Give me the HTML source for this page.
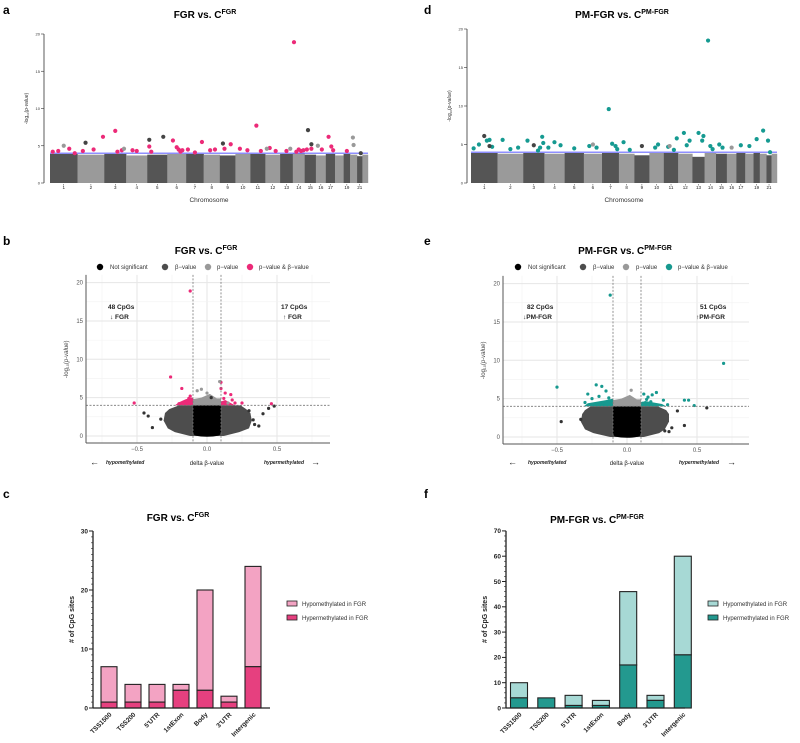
<!DOCTYPE html>
<html><head><meta charset="utf-8"><style>
html,body{margin:0;padding:0;background:#fff;}
svg{display:block;font-family:"Liberation Sans",sans-serif;}
</style></head><body>
<svg id="fig" width="800" height="743" viewBox="0 0 800 743" xmlns="http://www.w3.org/2000/svg">
<g font-weight="bold" font-size="12" fill="#000">
<text x="3" y="14">a</text>
<text x="3" y="245">b</text>
<text x="3" y="498">c</text>
<text x="424" y="14">d</text>
<text x="424" y="245">e</text>
<text x="424" y="498">f</text>
</g>
<g font-weight="bold" font-size="10" text-anchor="middle" fill="#000">
<text x="205" y="18">FGR vs. C<tspan dy="-4" font-size="7">FGR</tspan></text>
<text x="622" y="18">PM-FGR vs. C<tspan dy="-4" font-size="7">PM-FGR</tspan></text>
<text x="206" y="254">FGR vs. C<tspan dy="-4" font-size="7">FGR</tspan></text>
<text x="625" y="254">PM-FGR vs. C<tspan dy="-4" font-size="7">PM-FGR</tspan></text>
<text x="178" y="521">FGR vs. C<tspan dy="-4" font-size="7">FGR</tspan></text>
<text x="597" y="523">PM-FGR vs. C<tspan dy="-4" font-size="7">PM-FGR</tspan></text>
</g>
<g id="A"></g>
<g id="D"></g>
<g id="B"></g>
<g id="E"></g>
<g id="C"></g>
<g id="F"></g>
</svg>
<script>
// ---------- data ----------
const chrSizes=[249,243,198,191,181,171,159,146,141,136,135,134,115,107,102,90,83,78,59,63,48,51];
const chrLabels=["1","2","3","4","5","6","7","8","9","10","11","12","13","14","15","16","17","","19","","21",""];
const chrTopA=[3.9,3.8,3.9,3.7,3.8,3.9,3.9,3.8,3.7,3.9,3.9,3.8,3.9,4.0,3.8,3.7,3.9,3.7,3.9,3.8,3.6,3.8];
const chrTopD=[3.9,3.8,3.9,3.8,3.9,3.8,3.9,3.8,3.6,3.9,3.9,3.8,3.4,3.9,3.8,3.8,3.9,3.8,3.9,3.8,3.6,3.8];
// manhattan points: chromosome, fraction along chromosome, -log10 p, type (s=significant, g=grey, d=dark)
const manAChr=[1,1,1,1,2,2,2,3,3,3,4,4,5,5,6,6,6,6,6,7,7,7,8,8,9,9,10,10,11,11,12,12,13,14,14,14,14,14,15,15,16,17,17,17,19,21,2,5,5,9,15,15,16,20,20,1,3,12,13];
const manAFrac=[0.1,0.3,0.7,0.9,0.2,0.6,0.95,0.5,0.6,0.8,0.3,0.5,0.1,0.2,0.3,0.5,0.6,0.7,0.8,0.1,0.5,0.9,0.4,0.7,0.3,0.7,0.3,0.8,0.4,0.7,0.3,0.7,0.5,0.1,0.3,0.5,0.7,0.9,0.2,0.6,0.6,0.3,0.6,0.8,0.5,0.7,0.3,0.1,0.8,0.2,0.3,0.6,0.2,0.4,0.5,0.5,0.9,0.1,0.8];
const manAVal=[4.2,4.3,4.6,4.0,4.3,4.5,6.2,7.0,4.2,4.4,4.4,4.3,4.9,4.2,5.7,4.8,4.5,4.2,4.4,4.5,4.1,5.5,4.4,4.5,4.6,5.2,4.6,4.4,7.7,4.3,4.7,4.3,4.3,18.9,4.2,4.5,4.3,4.4,4.5,4.6,4.5,6.2,4.9,4.4,4.3,4.0,5.4,5.8,6.2,5.3,7.1,5.2,5.0,6.1,5.1,5.0,4.6,4.6,4.6];
const manAType="sssssssssssssssssssssssssssssssssssssssssssssdddddddgggggg".padEnd(59,"g");
const manDChr=[1,1,1,1,1,2,2,2,3,3,3,3,3,4,4,4,5,6,6,7,7,7,7,8,8,10,10,11,11,11,12,12,12,13,13,13,14,14,14,15,15,17,18,19,20,21,21,1,1,3,9,11,6,16];
const manDFrac=[0.1,0.3,0.6,0.7,0.8,0.2,0.5,0.8,0.2,0.7,0.9,0.95,0.8,0.2,0.5,0.8,0.5,0.3,0.7,0.4,0.6,0.8,0.9,0.3,0.7,0.4,0.6,0.3,0.7,0.9,0.4,0.6,0.8,0.5,0.8,0.9,0.3,0.5,0.7,0.3,0.6,0.5,0.5,0.5,0.5,0.3,0.7,0.5,0.7,0.5,0.5,0.4,0.5,0.5];
const manDVal=[4.5,5.0,5.5,5.6,4.7,5.6,4.4,4.6,5.5,4.2,6.0,5.2,4.6,4.6,5.3,4.9,4.5,4.8,4.6,9.6,5.1,4.8,4.4,5.3,4.3,4.6,5.0,4.7,4.3,5.8,6.5,4.9,5.5,6.5,5.5,6.1,18.5,4.8,4.4,5.0,4.6,4.9,4.8,5.7,6.8,5.5,4.0,6.1,4.8,4.9,4.8,4.8,5.0,4.6];
const manDType="sssssssssssssssssssssssssssssssssssssssssssssssddddggg";
// volcano points: delta beta, -log10 p, type
const volBX=[-0.12,-0.26,-0.18,-0.52,0.10,0.10,0.13,0.17,0.12,0.18,0.20,0.46,0.25,-0.14,-0.12,-0.11,-0.16,-0.2,-0.13,0.12,0.15,0.0,-0.04,-0.07,0.09,0.03,-0.45,-0.42,-0.39,0.40,0.44,0.48,0.37,0.33,0.34,-0.33,0.3];
const volBY=[18.9,7.7,6.2,4.3,7.0,6.2,5.6,5.4,4.9,4.7,4.3,4.2,4.3,4.5,5.2,4.8,4.3,4.2,4.9,4.3,4.3,5.6,6.1,5.9,7.1,5.0,3.0,2.6,1.1,2.9,3.6,3.9,1.3,2.1,1.5,2.2,3.3];
const volBType="ssssssssssssssssssssgggggdddddddddddd".split("");
const volEX=[-0.12,0.69,-0.5,-0.22,-0.18,-0.28,-0.25,-0.15,0.21,0.18,0.12,0.15,0.26,0.41,0.44,0.48,0.29,-0.2,-0.13,-0.3,-0.17,-0.11,0.11,0.14,0.17,0.03,-0.05,0.06,0.57,-0.47,0.41,0.32,0.27,0.30,-0.33,0.36];
const volEY=[18.5,9.6,6.5,6.8,6.6,5.6,5.0,6.0,5.8,5.5,5.6,5.2,4.8,4.8,4.8,4.1,4.2,5.3,5.1,4.5,4.4,4.7,4.4,4.9,4.6,6.1,4.6,4.7,3.8,2.0,1.5,1.2,0.8,0.7,2.3,3.4];
const volEType="sssssssssssssssssssssssssgggdddddddd".split("");
// cloud envelopes
const cloudY=[0,0.5,1,2,3,3.5,4];
const cloudBL=[-0.12,-0.23,-0.28,-0.31,-0.3,-0.27,-0.2];
const cloudBR=[0.12,0.23,0.3,0.32,0.31,0.28,0.24];
const cloudEL=[-0.12,-0.24,-0.3,-0.33,-0.32,-0.3,-0.26];
const cloudER=[0.12,0.23,0.27,0.3,0.3,0.28,0.22];
// bars
const regions=["TSS1500","TSS200","5'UTR","1stExon","Body","3'UTR","Intergenic"];
const hyperC=[1,1,1,3,3,1,7];
const hypoC=[6,3,3,1,17,1,17];
const hyperF=[4,4,1,1,17,3,21];
const hypoF=[6,0,4,2,29,2,39];
const ticksC=[0,10,20,30];
const ticksF=[0,10,20,30,40,50,60,70];
const volXTicks=[-0.5,0,0.5];
const volYTicks=[0,5,10,15,20];
const manYTicks=[0,5,10,15,20];

// ---------- helpers ----------
const NS="http://www.w3.org/2000/svg";
function mk(tag,attrs,parent,name){
  const e=document.createElementNS(NS,tag);
  for(const k in attrs)e.setAttribute(k,attrs[k]);
  
  
  parent.appendChild(e);return e;
}
function txt(parent,x,y,s,attrs,name){const t=mk('text',Object.assign({x:x,y:y},attrs||{}),parent,name);t.textContent=s;return t;}
const total=chrSizes.reduce((a,b)=>a+b,0);
const cumStart=[];let acc=0;chrSizes.forEach(s=>{cumStart.push(acc);acc+=s;});

// ---------- manhattan ----------
function manhattan(g,x0,x1,axX,y0,ppu,tops,chrs,fracs,vals,types,sigCol){
  const mx=(c,f)=>x0+(cumStart[c-1]+f*chrSizes[c-1])/total*(x1-x0);
  const my=v=>y0-v*ppu;
  chrSizes.forEach((s,i)=>{
    const r=mk('rect',{x:mx(i+1,0),y:my(tops[i]),width:mx(i+1,1)-mx(i+1,0)+0.2,height:my(0)-my(tops[i]),fill:i%2?'#9a9a9a':'#555'},g,'chromosome-block');
    if(chrLabels[i]){
      txt(g,mx(i+1,0.5),y0+6,chrLabels[i],{'font-size':4.5,'text-anchor':'middle',fill:'#222'},'chromosome-tick-label');
      mk('line',{x1:mx(i+1,0.5),x2:mx(i+1,0.5),y1:y0+1,y2:y0+2.5,stroke:'#333','stroke-width':0.5},g,'chromosome-tick');
    }
  });
  mk('line',{x1:axX,x2:axX,y1:my(20),y2:my(0),stroke:'#333','stroke-width':0.8},g,'y-axis');
  manYTicks.forEach(t=>{
    mk('line',{x1:axX-3,x2:axX,y1:my(t),y2:my(t),stroke:'#333','stroke-width':0.6},g,'y-tick');
    txt(g,axX-4,my(t)+1.5,String(t),{'font-size':4,'text-anchor':'end',fill:'#333'},'y-tick-label');
  });
  mk('line',{x1:x0,x2:x1,y1:my(4),y2:my(4),stroke:'#6a6aff','stroke-width':1.2},g,'threshold-line');
  chrs.forEach((c,i)=>{
    const col=types[i]==='s'?sigCol:(types[i]==='d'?'#444':'#999');
    mk('circle',{cx:mx(c,fracs[i]),cy:my(vals[i]),r:2.1,fill:col},g,'point');
  });
  txt(g,(x0+x1)/2,y0+19,'Chromosome',{'font-size':6.5,'text-anchor':'middle',fill:'#333'},'x-axis-title');
  const yt=txt(g,0,0,'',{'font-size':5,'text-anchor':'middle',fill:'#333',transform:`translate(${axX-16},${my(10)}) rotate(-90)`},'y-axis-title');
  yt.innerHTML='-log<tspan font-size="3" dy="1">10</tspan><tspan dy="-1">(</tspan><tspan font-style="italic">p-value</tspan>)';
}
manhattan(document.getElementById('A'),50,368,44,183,7.45,chrTopA,manAChr,manAFrac,manAVal,manAType,'#ec2a78');
manhattan(document.getElementById('D'),471,777,467,183,7.7,chrTopD,manDChr,manDFrac,manDVal,manDType,'#159a91');

// ---------- volcano ----------
function volcano(g,axX,x0val,ppx,y0,ppu,xr,cl,cr,xs,ys,types,sigCol,o){
  const vx=v=>x0val+v*ppx, vy=v=>y0-v*ppu;
  const bottom=y0+7;
  [-0.75,-0.25,0.25,0.75].forEach(t=>{if(vx(t)>axX&&vx(t)<xr)mk('line',{x1:vx(t),x2:vx(t),y1:vy(21),y2:bottom,stroke:'#f2f2f2','stroke-width':0.6},g,'grid-minor');});
  volXTicks.forEach(t=>mk('line',{x1:vx(t),x2:vx(t),y1:vy(21),y2:bottom,stroke:'#e6e6e6','stroke-width':1},g,'grid-major'));
  [2.5,7.5,12.5,17.5].forEach(t=>mk('line',{x1:axX,x2:xr,y1:vy(t),y2:vy(t),stroke:'#f2f2f2','stroke-width':0.6},g,'grid-minor'));
  volYTicks.forEach(t=>mk('line',{x1:axX,x2:xr,y1:vy(t),y2:vy(t),stroke:'#e6e6e6','stroke-width':1},g,'grid-major'));
  // dark cloud
  let d='M'+cloudY.map((y,i)=>vx(cl[i])+','+vy(y)).join(' L')+' L'+cloudY.slice().reverse().map((y,i)=>vx(cr[cloudY.length-1-i])+','+vy(y)).join(' L')+'Z';
  mk('path',{d:d,fill:'#4d4d4d'},g,'cloud-beta-value');
  mk('path',{d:`M${vx(-0.1)},${vy(4)} L${vx(-0.1)},${vy(4.8)} L${vx(-0.04)},${vy(5.0)} L${vx(0.02)},${vy(5.5)} L${vx(0.07)},${vy(4.9)} L${vx(0.1)},${vy(4.9)} L${vx(0.1)},${vy(4)}Z`,fill:'#999'},g,'cloud-p-value');
  mk('path',{d:`M${vx(-0.1)},${vy(4)} L${vx(-0.1)},${vy(0.4)} Q${vx(-0.1)},${vy(-0.1)} ${vx(0)},${vy(-0.1)} Q${vx(0.1)},${vy(-0.1)} ${vx(0.1)},${vy(0.4)} L${vx(0.1)},${vy(4)}Z`,fill:'#000'},g,'cloud-not-significant');
  // significant edge clusters
  mk('path',{d:`M${vx(-0.1)},${vy(4)} L${vx(-0.1)},${vy(5.0)} L${vx(-0.15)},${vy(4.8)} L${vx(-o)},${vy(4.4)} L${vx(-o-0.03)},${vy(4)}Z`,fill:sigCol},g,'cluster-left');
  mk('path',{d:`M${vx(0.1)},${vy(4)} L${vx(0.1)},${vy(4.5)} L${vx(0.13)},${vy(4.7)} L${vx(o-0.03)},${vy(4.3)} L${vx(o)},${vy(4)}Z`,fill:sigCol},g,'cluster-right');
  xs.forEach((x,i)=>{
    const col=types[i]==='s'?sigCol:(types[i]==='d'?'#333':'#999');
    mk('circle',{cx:vx(x),cy:vy(ys[i]),r:1.6,fill:col},g,'point');
  });
  const dash={stroke:'#777','stroke-width':0.8,'stroke-dasharray':'2,1.5'};
  mk('line',Object.assign({x1:vx(-0.1),x2:vx(-0.1),y1:vy(21),y2:bottom},dash),g,'beta-threshold-left');
  mk('line',Object.assign({x1:vx(0.1),x2:vx(0.1),y1:vy(21),y2:bottom},dash),g,'beta-threshold-right');
  mk('line',Object.assign({x1:axX,x2:xr,y1:vy(4),y2:vy(4)},dash),g,'p-threshold');
  mk('line',{x1:axX,x2:axX,y1:vy(21),y2:bottom,stroke:'#555','stroke-width':1},g,'y-axis');
  mk('line',{x1:axX,x2:xr,y1:bottom,y2:bottom,stroke:'#555','stroke-width':1},g,'x-axis');
  volYTicks.forEach(t=>txt(g,axX-3,vy(t)+2,String(t),{'font-size':6,'text-anchor':'end',fill:'#555'},'y-tick-label'));
  volXTicks.forEach(t=>txt(g,vx(t),bottom+8,t===0?'0.0':(t<0?'\u22120.5':'0.5'),{'font-size':6,'text-anchor':'middle',fill:'#555'},'x-tick-label'));
  const yt=txt(g,0,0,'',{'font-size':6,'text-anchor':'middle',fill:'#444',transform:`translate(${axX-18},${vy(10)}) rotate(-90)`},'y-axis-title');
  yt.innerHTML='-log<tspan font-size="3.5" dy="1">10</tspan><tspan dy="-1">(</tspan><tspan font-style="italic">p-value</tspan>)';
}
volcano(document.getElementById('B'),86,207,140,436,7.67,330,cloudBL,cloudBR,volBX,volBY,volBType,'#ec2a78',0.2);
volcano(document.getElementById('E'),503,627,140,437,7.67,749,cloudEL,cloudER,volEX,volEY,volEType,'#17998f',0.28);

// ---------- bars ----------
function bars(g,axX,y0,ymax,ppu,x0,step,bw,hyper,hypo,ticks,light,dark,legX,xEnd){
  const by=v=>y0-v*ppu;
  regions.forEach((r,i)=>{
    const cx=x0+i*step;
    mk('rect',{x:cx-bw/2,y:by(hyper[i]+hypo[i]),width:bw,height:hypo[i]*ppu,fill:light,stroke:'#222','stroke-width':1.1},g,'bar-hypo-'+r);
    mk('rect',{x:cx-bw/2,y:by(hyper[i]),width:bw,height:hyper[i]*ppu,fill:dark,stroke:'#222','stroke-width':1.1},g,'bar-hyper-'+r);
    txt(g,cx+3,y0+7,r,{'font-size':6.5,'font-weight':'bold','text-anchor':'end',fill:'#222',transform:`rotate(-45 ${cx+3} ${y0+7})`},'x-tick-label');
  });
  mk('line',{x1:axX,x2:axX,y1:by(ymax),y2:y0,stroke:'#222','stroke-width':1.3},g,'y-axis');
  mk('line',{x1:axX,x2:xEnd,y1:y0,y2:y0,stroke:'#222','stroke-width':1.3},g,'x-axis');
  for(let v=0;v<=ymax;v+=(ymax>40?2:1))mk('line',{x1:axX-2,x2:axX,y1:by(v),y2:by(v),stroke:'#222','stroke-width':0.6},g,'y-minor-tick');
  ticks.forEach(t=>{
    mk('line',{x1:axX-4,x2:axX,y1:by(t),y2:by(t),stroke:'#222','stroke-width':1},g,'y-tick');
    txt(g,axX-5,by(t)+2.3,String(t),{'font-size':6.5,'font-weight':'bold','text-anchor':'end',fill:'#222'},'y-tick-label');
  });
  txt(g,0,0,'# of CpG sites',{'font-size':7,'font-weight':'bold','text-anchor':'middle',fill:'#222',transform:`translate(${axX-19},${by(ymax/2)}) rotate(-90)`},'y-axis-title');
  mk('rect',{x:legX,y:601,width:10,height:5,fill:light,stroke:'#222','stroke-width':0.8},g,'legend-swatch-hypo');
  txt(g,legX+15,606,'Hypomethylated in FGR',{'font-size':6,fill:'#333'},'legend-entry-hypo');
  mk('rect',{x:legX,y:615,width:10,height:5,fill:dark,stroke:'#222','stroke-width':0.8},g,'legend-swatch-hyper');
  txt(g,legX+15,620,'Hypermethylated in FGR',{'font-size':6,fill:'#333'},'legend-entry-hyper');
}
bars(document.getElementById('C'),93,708,30,5.9,109,24,16,hyperC,hypoC,ticksC,'#f3a3c3','#e6407f',287,270);
bars(document.getElementById('F'),506,708,70,2.53,519,27.3,17,hyperF,hypoF,ticksF,'#a7d9d5','#23998f',708,685);
</script>
<svg style="position:absolute;left:0;top:0" width="800" height="743" font-family="Liberation Sans, sans-serif">
<g font-size="6" fill="#333">
<circle cx="100" cy="267" r="3.2" fill="#000"/><text x="110" y="269">Not significant</text>
<circle cx="165" cy="267" r="3.2" fill="#4d4d4d"/><text x="175" y="269">β−value</text>
<circle cx="208" cy="267" r="3.2" fill="#999"/><text x="217" y="269">p−value</text>
<circle cx="250" cy="267" r="3.2" fill="#ec2a78"/><text x="259" y="269">p−value &amp; β−value</text>
</g>
<g font-size="6" fill="#333">
<circle cx="518" cy="267" r="3.2" fill="#000"/><text x="528" y="269">Not significant</text>
<circle cx="583" cy="267" r="3.2" fill="#4d4d4d"/><text x="593" y="269">β−value</text>
<circle cx="626" cy="267" r="3.2" fill="#999"/><text x="636" y="269">p−value</text>
<circle cx="669" cy="267" r="3.2" fill="#17998f"/><text x="678" y="269">p−value &amp; β−value</text>
</g>
<g font-size="6.5" font-weight="bold" fill="#222">
<text x="108" y="309">48 CpGs</text>
<text x="110" y="319">↓ FGR</text>
<text x="281" y="309">17 CpGs</text>
<text x="283" y="319">↑ FGR</text>
<text x="527" y="309">82 CpGs</text>
<text x="523" y="319">↓PM-FGR</text>
<text x="700" y="309">51 CpGs</text>
<text x="696" y="319">↑PM-FGR</text>
</g>
<g font-size="5" fill="#222">
<text x="90" y="465" font-size="9">←</text>
<text x="106" y="464" font-style="italic" font-weight="bold">hypomethylated</text>
<text x="207" y="465" font-size="6" text-anchor="middle">delta β-value</text>
<text x="264" y="464" font-style="italic" font-weight="bold">hypermethylated</text>
<text x="311" y="465" font-size="9">→</text>
<text x="508" y="465" font-size="9">←</text>
<text x="528" y="464" font-style="italic" font-weight="bold">hypomethylated</text>
<text x="627" y="465" font-size="6" text-anchor="middle">delta β-value</text>
<text x="679" y="464" font-style="italic" font-weight="bold">hypermethylated</text>
<text x="727" y="465" font-size="9">→</text>
</g>
</svg>
</body></html>
